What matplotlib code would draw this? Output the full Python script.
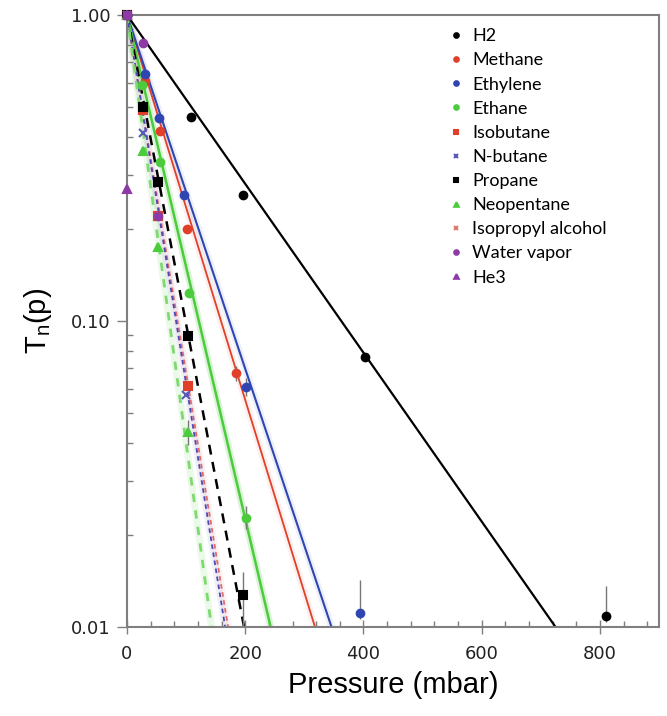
import numpy as np
import matplotlib.pyplot as plt
from matplotlib.ticker import FixedLocator, MultipleLocator, LogLocator, NullFormatter

# measured points: pressure (mbar) and normalised transmission
h2_p = [0, 109, 196, 402, 810]
h2_t = [1.0, 0.463, 0.258, 0.076, 0.0109]
methane_p = [0, 30, 56, 102, 184]
methane_t = [1.0, 0.61, 0.418, 0.20, 0.0675]
ethylene_p = [0, 30, 54, 96, 202, 395]
ethylene_t = [1.0, 0.64, 0.46, 0.258, 0.0609, 0.0111]
ethane_p = [0, 25, 56, 105, 202]
ethane_t = [1.0, 0.59, 0.33, 0.123, 0.0227]
isobutane_p = [0, 27, 52, 104]
isobutane_t = [1.0, 0.49, 0.22, 0.0612]
nbutane_p = [0, 27, 100]
nbutane_t = [1.0, 0.41, 0.0573]
propane_p = [0, 27, 52, 104, 196]
propane_t = [1.0, 0.50, 0.285, 0.089, 0.0127]
neopentane_p = [0, 27, 52, 104]
neopentane_t = [1.0, 0.36, 0.175, 0.0434]
ipa_p = [0]
ipa_t = [1.0]
water_p = [0, 27, 52]
water_t = [1.0, 0.81, 0.22]
he3_p = [0]
he3_t = [0.27]

# error bars (pressure, T, lower, upper) that are visible
err_p = [810, 196, 395, 202, 104, 184, 202]
err_t = [0.0109, 0.0127, 0.0111, 0.0227, 0.0434, 0.0675, 0.0609]
err_lo = [0.0005, 0.006, 0.0005, 0.0018, 0.004, 0.004, 0.004]
err_hi = [0.0027, 0.0024, 0.0031, 0.0022, 0.004, 0.004, 0.004]

# exponential fits: pressure where the fit reaches T = 0.01
fit_names = ['H2', 'Methane', 'Ethylene', 'Ethane', 'Propane', 'Isobutane', 'N-butane', 'Neopentane']
fit_end = [725, 318, 346, 243, 198, 171, 166, 143]
fit_color = ['black', '#e0402a', '#2f46b2', '#4ccc3c', 'black', '#e06a6a', '#4a4ab0', '#7fd870']
fit_style = ['-', '-', '-', '-', (0, (4, 3)), (0, (2.5, 2)), (0, (2.5, 2)), (0, (3, 3))]
fit_lw = [1.6, 1.3, 1.5, 1.8, 1.8, 1.3, 1.3, 2.0]
fit_halo = [0, 0.08, 0.08, 0.2, 0, 0.08, 0.08, 0.15]

fig = plt.figure(figsize=(6.67, 7.16), dpi=100)
ax = fig.add_axes([127/667, 1-627/716, 532/667, 612/716])
ax.set_yscale('log')
ax.set_xlim(0, 900)
ax.set_ylim(0.01, 1.0)

for pe, c, ls, lw, ha in zip(fit_end, fit_color, fit_style, fit_lw, fit_halo):
    if ha > 0:
        ax.plot([0, pe], [1.0, 0.01], color=c, lw=5, alpha=ha, solid_capstyle='butt', zorder=1)
    ax.plot([0, pe], [1.0, 0.01], color=c, ls=ls, lw=lw, zorder=2)

ax.errorbar(err_p, err_t, yerr=[err_lo, err_hi], fmt='none', ecolor='#777777',
            elinewidth=1, capsize=0, zorder=3)

series = [
    ('H2', h2_p, h2_t, 'black', 'o'),
    ('Methane', methane_p, methane_t, '#e0402a', 'o'),
    ('Ethylene', ethylene_p, ethylene_t, '#2f46b2', 'o'),
    ('Ethane', ethane_p, ethane_t, '#4ccc3c', 'o'),
    ('Isobutane', isobutane_p, isobutane_t, '#e0402a', 's'),
    ('N-butane', nbutane_p, nbutane_t, '#5a5ab8', 'x'),
    ('Propane', propane_p, propane_t, 'black', 's'),
    ('Neopentane', neopentane_p, neopentane_t, '#4ccc3c', '^'),
    ('Isopropyl alcohol', ipa_p, ipa_t, '#e07a70', 'x'),
    ('Water vapor', water_p, water_t, '#8e3aa6', 'o'),
    ('He3', he3_p, he3_t, '#8e3aa6', '^'),
]
for name, p, t, c, m in series:
    ax.plot(p, t, ls='none', marker=m, color=c, ms=5.5, mew=1.5, label=name,
            clip_on=False, zorder=4)
ax.plot([0], [1.0], ls='none', marker='s', color='#8e3aa6', ms=6, clip_on=False, zorder=5)

for s in ax.spines.values():
    s.set_color('#7f7f7f')
    s.set_linewidth(1.5)

ax.xaxis.set_major_locator(MultipleLocator(200))
ax.xaxis.set_minor_locator(MultipleLocator(40))
ax.yaxis.set_major_locator(FixedLocator([0.01, 0.1, 1.0]))
ax.yaxis.set_minor_locator(LogLocator(base=10, subs=np.arange(2, 10)))
ax.yaxis.set_minor_formatter(NullFormatter())
ax.set_yticklabels(['0.01', '0.10', '1.00'])

ax.tick_params(which='major', direction='out', length=7, width=1, color='#7f7f7f',
               labelsize=13, pad=5)
ax.tick_params(which='minor', direction='in', length=4, width=1, color='#7f7f7f')
ax.tick_params(axis='x', which='major', direction='inout', length=10, pad=8)
for lab in ax.get_xticklabels() + ax.get_yticklabels():
    lab.set_fontfamily('DejaVu Sans')
    lab.set_color('#222222')

ax.set_xlabel('Pressure (mbar)', fontsize=21, family='Liberation Sans', labelpad=6)
ax.set_ylabel(r'T$_\mathregular{n}$(p)', fontsize=21, family='Liberation Sans', labelpad=12)

leg = ax.legend(loc='upper left', bbox_to_anchor=(0.595, 0.99), frameon=False,
                fontsize=13, markerscale=0.6, handlelength=0.6, handletextpad=0.6,
                labelspacing=0.45, borderaxespad=0)
for txt in leg.get_texts():
    txt.set_fontfamily('Lato')

fig.savefig('out.png', dpi=100)
